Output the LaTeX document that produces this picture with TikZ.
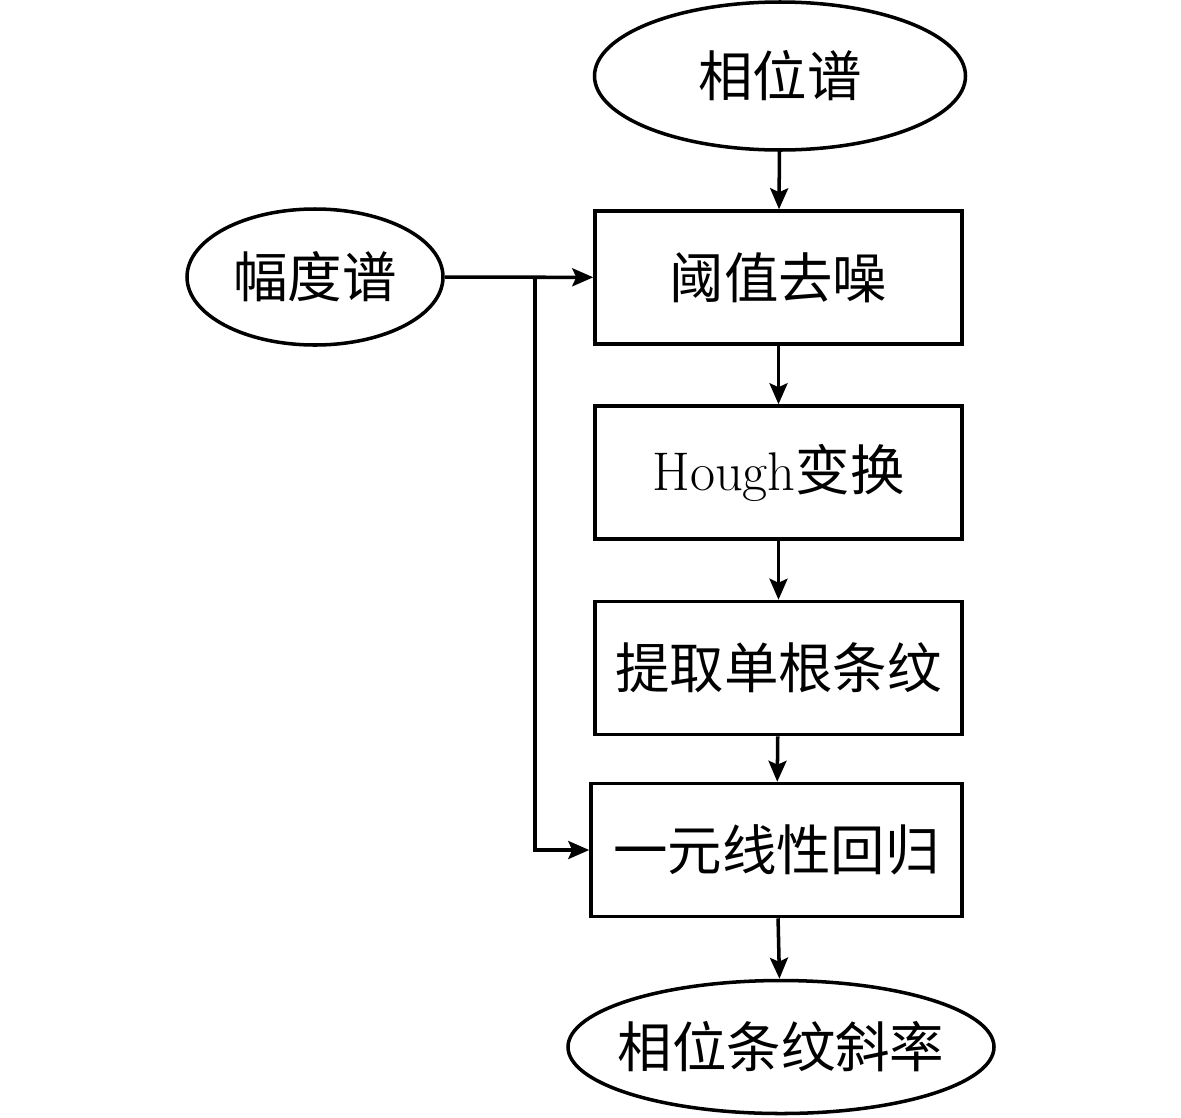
\documentclass[tikz,border=0pt]{standalone}
\usepackage{fontspec}
\newfontfamily\cjk{Noto Sans CJK SC}
\usetikzlibrary{shapes.geometric,arrows.meta}

\begin{document}
\begin{tikzpicture}[x=1cm,y=1cm,
		  every node/.style={font=\fontsize{31}{36}\selectfont},
		  oval/.style={ellipse,draw,line width=2pt,inner sep=0pt},
		  stepbox/.style={rectangle,draw,line width=2pt,minimum height=2.66cm,inner sep=0pt},
		  flow/.style={line width=2pt,-{Stealth[length=0.42cm,width=0.36cm,inset=0.08cm]}}]
		  \useasboundingbox (0,0) rectangle (23.62,-22.34);
		  \node[oval,minimum width=7.42cm,minimum height=2.96cm] (phase) at (15.6,-1.52) {\cjk 相位谱};
		  \node[oval,minimum width=5.12cm,minimum height=2.72cm] (amp) at (6.3,-5.54) {\cjk 幅度谱};
		  \node[stepbox,minimum width=7.34cm] (denoise) at (15.57,-5.55) {\cjk 阈值去噪};
		  \node[stepbox,minimum width=7.34cm] (hough) at (15.57,-9.45) {Hough{\cjk 变换}};
		  \node[stepbox,minimum width=7.34cm] (fringe) at (15.57,-13.36) {\cjk 提取单根条纹};
		  \node[stepbox,minimum width=7.42cm] (regress) at (15.53,-17.0) {\cjk 一元线性回归};
		  \node[oval,inner xsep=-0.28cm,minimum width=8.52cm,minimum height=2.66cm] (slope) at (15.62,-20.94) {\cjk 相位条纹斜率};
		  \coordinate (split) at (10.7,-5.54);

		  \draw[flow] (phase) -- (denoise);
		  \draw[flow] (denoise) -- (hough);
		  \draw[flow] (hough) -- (fringe);
		  \draw[flow] (fringe) -- (regress);
		  \draw[flow] (regress) -- (slope);
		  \draw[flow] (amp) -- (denoise);
		  \draw[flow] (split) |- (regress.west);
		\end{tikzpicture}
\end{document}
